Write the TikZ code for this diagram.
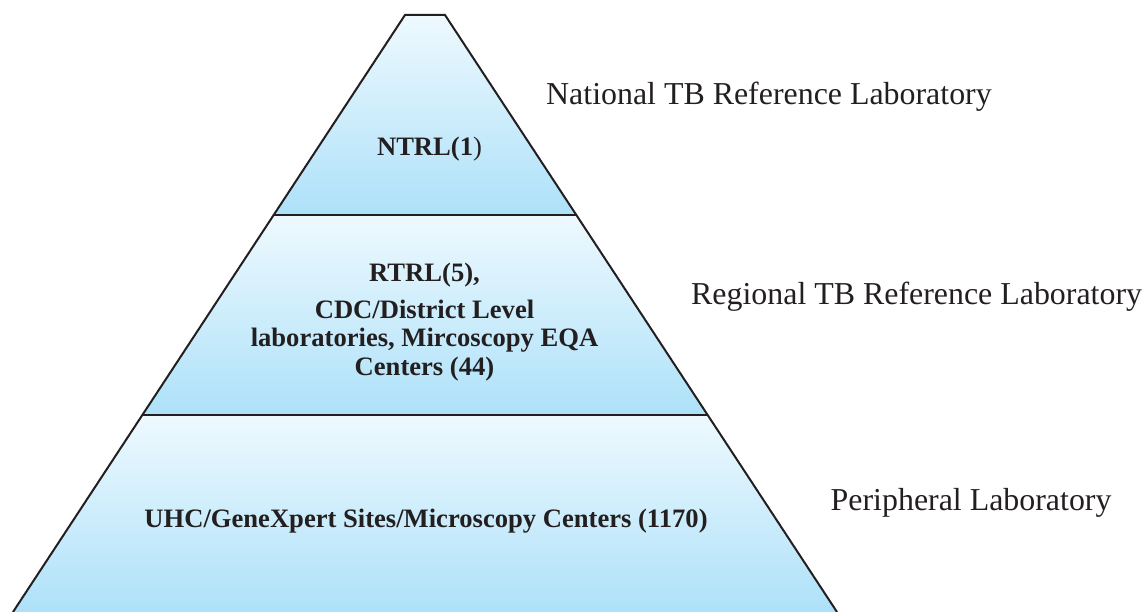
\documentclass[tikz,border=0pt]{standalone}
\usepackage{fontspec}
\setmainfont{Liberation Serif}
\definecolor{edgec}{HTML}{231F20}
\definecolor{bandtop}{HTML}{EEF9FE}
\definecolor{bandbot}{HTML}{ADE1F9}
\definecolor{txtc}{HTML}{231F20}
\tikzset{
  band/.style={top color=bandtop, bottom color=bandbot, draw=none},
  edge/.style={draw=edgec, line width=2pt},
  inlabel/.style={inner sep=0pt, anchor=base, text=txtc, font=\fontsize{26.6}{28}\selectfont\bfseries},
  sidelabel/.style={inner sep=0pt, anchor=base west, text=txtc, font=\fontsize{31.9}{34}\selectfont},
}
\begin{document}
\begin{tikzpicture}[x=1pt,y=-1pt]
\useasboundingbox (0,0) rectangle (1146,612);
% key points
\coordinate (tl) at (405,15);
\coordinate (tr) at (445,15);
\coordinate (l1) at (273.7,215);
\coordinate (r1) at (576.3,215);
\coordinate (l2) at (142.3,415);
\coordinate (r2) at (707.7,415);
\coordinate (bl) at (13,612);
\coordinate (br) at (837,612);
% bands
\fill[band] (tl) -- (tr) -- (r1) -- (l1) -- cycle;
\fill[band] (l1) -- (r1) -- (r2) -- (l2) -- cycle;
\fill[band] (l2) -- (r2) -- (br) -- (bl) -- cycle;
% outline
\draw[edge] (bl) -- (tl) -- (tr) -- (br);
\draw[edge] (l1) -- (r1);
\draw[edge] (l2) -- (r2);
% inner labels
\node[inlabel] (ntrl) at (429.5,156) {NTRL(1\textmd{)}};
\node[inlabel] (rtrl) at (424.5,282) {RTRL(5),};
\node[inlabel] (cdc) at (424.5,319) {CDC/District Level};
\node[inlabel] (labs) at (424.5,347) {laboratories, Mircoscopy EQA};
\node[inlabel] (cent) at (424.5,375) {Centers (44)};
\node[inlabel] (uhc) at (426,527.5) {UHC/GeneXpert Sites/Microscopy Centers (1170)};
% side labels
\node[sidelabel] (nat) at (546,104.7) {National TB Reference Laboratory};
\node[sidelabel] (reg) at (691,304.7) {Regional TB Reference Laboratory};
\node[sidelabel] (per) at (830.5,510.7) {Peripheral Laboratory};
\end{tikzpicture}
\end{document}
